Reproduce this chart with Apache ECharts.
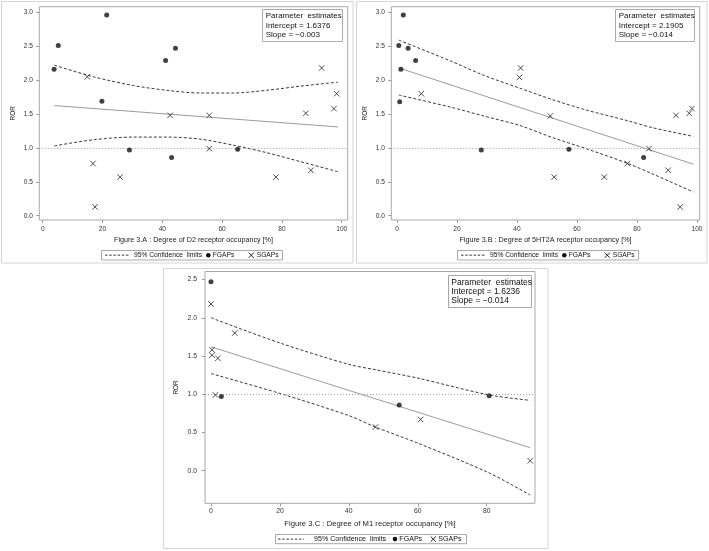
<!DOCTYPE html>
<html><head><meta charset="utf-8">
<script src="https://cdn.jsdelivr.net/npm/echarts/dist/echarts.min.js"></script>
<style>html,body{margin:0;padding:0;background:#fff}#main{width:709px;height:551px}</style>
</head><body><div id="main"></div>
<script>
// ---------- Panel A : D2 receptor occupancy ----------
const aFgaX = [3.8, 5.2, 21.4, 19.8, 29.0, 41.1, 44.4, 43.1, 65.2];
const aFgaY = [2.16, 2.51, 2.96, 1.69, 0.97, 2.29, 2.47, 0.86, 0.98];
const aSgaX = [14.9, 16.8, 17.5, 25.9, 42.6, 55.7, 55.7, 78.0, 88.0, 89.7, 93.3, 97.4, 98.3];
const aSgaY = [2.05, 0.77, 0.13, 0.57, 1.48, 1.48, 0.99, 0.57, 1.51, 0.67, 2.18, 1.58, 1.80];
const aFitX = [3.9, 98.7];
const aFitY = [1.625, 1.31];
const aCiX  = [3.9, 16.9, 30.3, 41.5, 52.6, 63.8, 74.9, 86.0, 98.7];
const aCiUp = [2.22, 2.05, 1.92, 1.85, 1.81, 1.81, 1.85, 1.91, 1.97];
const aCiLo = [1.03, 1.12, 1.16, 1.16, 1.13, 1.04, 0.93, 0.80, 0.65];
const aTitle = 'Figure 3.A : Degree of D2 receptor occupancy [%]';
const aParams = ['Parameter  estimates', 'Intercept = 1.6376', 'Slope = \u22120.003'];

// ---------- Panel B : 5HT2A receptor occupancy ----------
const bFgaX = [2.1, 0.6, 3.7, 6.2, 1.3, 0.9, 28.1, 57.3, 82.2];
const bFgaY = [2.96, 2.51, 2.47, 2.29, 2.16, 1.68, 0.97, 0.98, 0.86];
const bSgaX = [8.1, 41.2, 40.8, 51.1, 52.4, 69.1, 76.8, 84.0, 90.4, 93.0, 94.4, 97.4, 98.3];
const bSgaY = [1.80, 2.18, 2.04, 1.47, 0.57, 0.57, 0.77, 0.99, 0.67, 1.48, 0.13, 1.51, 1.58];
const bFitX = [0.6, 98.8];
const bFitY = [2.18, 0.76];
const bCiX  = [0.6, 18.0, 29.0, 41.0, 52.0, 63.0, 77.0, 85.0, 98.8];
const bCiUp = [2.59, 2.28, 2.07, 1.88, 1.71, 1.56, 1.40, 1.30, 1.17];
const bCiLo = [1.78, 1.60, 1.47, 1.33, 1.15, 0.99, 0.77, 0.62, 0.35];
const bTitle = 'Figure 3.B : Degree of 5HT2A receptor occupancy [%]';
const bParams = ['Parameter  estimates', 'Intercept = 2.1905', 'Slope = \u22120.014'];

// ---------- Panel C : M1 receptor occupancy ----------
const cFgaX = [0.0, 3.0, 54.6, 80.7];
const cFgaY = [2.47, 0.97, 0.86, 0.98];
const cSgaX = [0.0, 6.9, 0.3, 0.3, 2.0, 1.3, 47.7, 60.8, 92.6];
const cSgaY = [2.18, 1.80, 1.58, 1.51, 1.47, 0.99, 0.57, 0.67, 0.13];
const cFitX = [0.0, 92.6];
const cFitY = [1.62, 0.30];
const cCiX  = [0.0, 20.0, 40.0, 47.7, 60.0, 80.7, 92.6];
const cCiUp = [2.00, 1.67, 1.39, 1.32, 1.21, 0.99, 0.92];
const cCiLo = [1.27, 1.01, 0.72, 0.57, 0.36, -0.03, -0.32];
const cTitle = 'Figure 3.C : Degree of M1 receptor occupancy [%]';
const cParams = ['Parameter  estimates', 'Intercept = 1.6236', 'Slope = \u22120.014'];

// ---------- tick labels ----------
const xTicksAB = [0, 20, 40, 60, 80, 100];
const xTicksC  = [0, 20, 40, 60, 80];
const yTicksAB = [0, 0.5, 1.0, 1.5, 2.0, 2.5, 3.0];
const yTicksC  = [0, 0.5, 1.0, 1.5, 2.0, 2.5];
const refLine = 1.0;
const legendNames = ['95% Confidence  limits', 'FGAPs', 'SGAPs'];

const FONT = '"Liberation Sans", Arial, Helvetica, sans-serif';
function pts(xs, ys) { return xs.map((x, i) => [x, ys[i]]); }
const X_PATH = 'path://M0,0L10,10M10,0L0,10';

const panels = [
  { grid: {left: 39.3, top: 6.7, width: 308.4, height: 213.3}, xMin: -1.14, xMax: 102, yMin: -0.063, yMax: 3.083,
    xTicks: xTicksAB, yTicks: yTicksAB, title: aTitle, tickFs: 6.6, titleFs: 7.2, mY: 6.4, mX: 5.2, gY: 23.3, gX: 17,
    fga: pts(aFgaX, aFgaY), sga: pts(aSgaX, aSgaY), fit: pts(aFitX, aFitY), up: pts(aCiX, aCiUp), lo: pts(aCiX, aCiLo) },
  { grid: {left: 391.3, top: 6.7, width: 308.4, height: 213.3}, xMin: -1.9, xMax: 100.9, yMin: -0.063, yMax: 3.083,
    xTicks: xTicksAB, yTicks: yTicksAB, title: bTitle, tickFs: 6.6, titleFs: 7.2, mY: 6.4, mX: 5.2, gY: 23.3, gX: 17,
    fga: pts(bFgaX, bFgaY), sga: pts(bSgaX, bSgaY), fit: pts(bFitX, bFitY), up: pts(bCiX, bCiUp), lo: pts(bCiX, bCiLo) },
  { grid: {left: 205, top: 271.5, width: 330, height: 231.8}, xMin: -1.74, xMax: 94.0, yMin: -0.427, yMax: 2.605,
    xTicks: xTicksC, yTicks: yTicksC, title: cTitle, tickFs: 6.8, titleFs: 7.7, mY: 8.0, mX: 4.5, gY: 25.5, gX: 17,
    fga: pts(cFgaX, cFgaY), sga: pts(cSgaX, cSgaY), fit: pts(cFitX, cFitY), up: pts(cCiX, cCiUp), lo: pts(cCiX, cCiLo) }
];

const grids = [], xAxes = [], yAxes = [], series = [];
panels.forEach((p, i) => {
  grids.push(Object.assign({show: true, borderColor: '#a8a8a8', borderWidth: 1, backgroundColor: 'transparent', containLabel: false}, p.grid));
  xAxes.push({
    type: 'value', gridIndex: i, min: p.xMin, max: p.xMax, position: 'bottom',
    axisLine: {show: false, onZero: false},
    axisTick: {show: true, inside: false, length: 3, lineStyle: {color: '#999'}, customValues: p.xTicks},
    axisLabel: {customValues: p.xTicks, margin: p.mX, fontSize: p.tickFs, fontFamily: FONT, color: '#333', formatter: v => String(Math.round(v))},
    splitLine: {show: false},
    name: p.title, nameLocation: 'middle', nameGap: p.gX,
    nameTextStyle: {fontSize: p.titleFs, fontFamily: FONT, color: '#222'}
  });
  yAxes.push({
    type: 'value', gridIndex: i, min: p.yMin, max: p.yMax, position: 'left',
    axisLine: {show: false, onZero: false},
    axisTick: {show: true, inside: false, length: 3, lineStyle: {color: '#999'}, customValues: p.yTicks},
    axisLabel: {customValues: p.yTicks, margin: p.mY, fontSize: p.tickFs, fontFamily: FONT, color: '#333', formatter: v => v.toFixed(1)},
    splitLine: {show: false},
    name: 'ROR', nameLocation: 'middle', nameGap: p.gY,
    nameTextStyle: {fontSize: 6.4, fontFamily: FONT, color: '#222'}
  });
  const ciStyle = {type: [3, 2], color: '#3a3a3a', width: 1};
  series.push({name: legendNames[0], type: 'line', xAxisIndex: i, yAxisIndex: i, data: p.up, smooth: 0.3,
    showSymbol: false, symbol: 'none', lineStyle: ciStyle, z: 3});
  series.push({name: legendNames[0], type: 'line', xAxisIndex: i, yAxisIndex: i, data: p.lo, smooth: 0.3,
    showSymbol: false, symbol: 'none', lineStyle: ciStyle, z: 3});
  series.push({name: 'Fit', type: 'line', xAxisIndex: i, yAxisIndex: i, data: p.fit,
    showSymbol: false, symbol: 'none', lineStyle: {color: '#9a9a9a', width: 1}, z: 2,
    markLine: {silent: true, symbol: ['none', 'none'], label: {show: false},
      lineStyle: {type: [1, 2], color: '#9a9a9a', width: 1}, data: [{yAxis: refLine}]}});
  series.push({name: legendNames[1], type: 'scatter', xAxisIndex: i, yAxisIndex: i, data: p.fga,
    symbol: 'circle', symbolSize: 5, itemStyle: {color: '#111'}, z: 5});
  series.push({name: legendNames[2], type: 'scatter', xAxisIndex: i, yAxisIndex: i, data: p.sga,
    symbol: X_PATH, symbolSize: 5.5, itemStyle: {color: 'transparent', borderColor: '#222', borderWidth: 1}, z: 5});
});

// ---------- decoration: panel frames, parameter boxes, legend boxes ----------
const graphic = [];
function frame(x, y, w, h, color) {
  graphic.push({type: 'rect', z: 0, silent: true, shape: {x, y, width: w, height: h}, style: {fill: 'none', stroke: color, lineWidth: 1}});
}
frame(1.5, 1.5, 351.5, 261.5, '#d4d4d4');
frame(356.5, 1.5, 350.5, 261.5, '#d4d4d4');
frame(163.5, 268.5, 384.5, 280, '#d4d4d4');

function paramBox(x, y, w, h, tx, ys, lines, fs) {
  graphic.push({type: 'rect', z: 10, silent: true, shape: {x, y, width: w, height: h}, style: {fill: '#fff', stroke: '#a8a8a8', lineWidth: 1}});
  lines.forEach((t, k) => graphic.push({type: 'text', z: 11, silent: true, x: tx, y: ys[k],
    style: {text: t, fontSize: fs, fontFamily: FONT, fill: '#111', align: 'left', verticalAlign: 'middle'}}));
}
paramBox(262.5, 9.5, 80, 32, 265.7, [16.2, 25.7, 35], aParams, 8);
paramBox(615.5, 9.5, 79, 32, 618.7, [16.2, 25.7, 35], bParams, 8);
paramBox(448.5, 275.5, 83, 32, 451.3, [282.7, 291.6, 300.4], cParams, 8.5);

function legendBox(bx, by, bw, bh, cy, d1, d2, t1, dot, t2, xm, t3, fs) {
  graphic.push({type: 'rect', z: 10, silent: true, shape: {x: bx, y: by, width: bw, height: bh}, style: {fill: '#fff', stroke: '#a8a8a8', lineWidth: 1}});
  graphic.push({type: 'line', z: 11, silent: true, shape: {x1: d1, y1: cy, x2: d2, y2: cy}, style: {stroke: '#3a3a3a', lineWidth: 1, lineDash: [2.5, 1.7]}});
  graphic.push({type: 'circle', z: 11, silent: true, shape: {cx: dot, cy: cy, r: 2.3}, style: {fill: '#111'}});
  graphic.push({type: 'line', z: 11, silent: true, shape: {x1: xm - 2.6, y1: cy - 2.6, x2: xm + 2.6, y2: cy + 2.6}, style: {stroke: '#222', lineWidth: 1}});
  graphic.push({type: 'line', z: 11, silent: true, shape: {x1: xm + 2.6, y1: cy - 2.6, x2: xm - 2.6, y2: cy + 2.6}, style: {stroke: '#222', lineWidth: 1}});
  [[t1, legendNames[0]], [t2, legendNames[1]], [t3, legendNames[2]]].forEach(([tx, t]) =>
    graphic.push({type: 'text', z: 11, silent: true, x: tx, y: cy,
      style: {text: t, fontSize: fs, fontFamily: FONT, fill: '#111', align: 'left', verticalAlign: 'middle'}}));
}
legendBox(101.5, 250.5, 181, 9.5, 255.2, 105, 130, 134, 208.3, 212.7, 251.3, 256.7, 6.7);
legendBox(457.5, 250.5, 181, 9.5, 255.2, 461, 486, 490, 564.3, 568.7, 607.3, 612.7, 6.7);
legendBox(275.5, 534.5, 191, 9.2, 539.1, 278, 304, 314, 395, 399.3, 433.3, 438.3, 7.1);

const chart = echarts.init(document.getElementById('main'), null, {renderer: 'canvas'});
chart.setOption({
  animation: false,
  backgroundColor: '#fff',
  textStyle: {fontFamily: FONT},
  grid: grids, xAxis: xAxes, yAxis: yAxes, series: series, graphic: graphic
});
</script></body></html>
